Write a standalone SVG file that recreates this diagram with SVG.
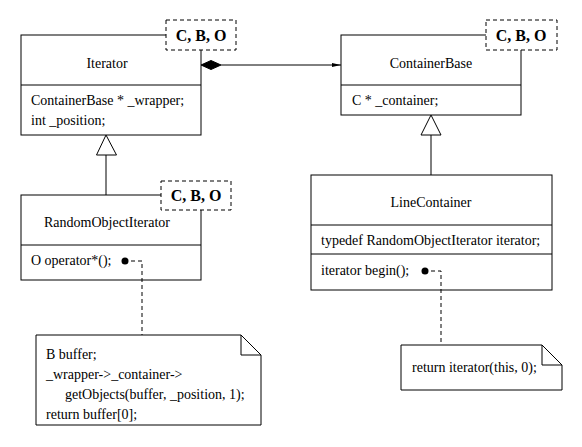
<svg xmlns="http://www.w3.org/2000/svg" width="582" height="447" viewBox="0 0 582 447">
<style>
.box{fill:#fff;stroke:#000;stroke-width:1}
.ln{stroke:#000;stroke-width:1;fill:none}
.dash{stroke:#000;stroke-width:1;fill:none;stroke-dasharray:4,3}
.tag{fill:#fff;stroke:#000;stroke-width:1;stroke-dasharray:4,3}
text{font-family:"Liberation Serif","Times New Roman",serif;font-size:14px;fill:#000}
.c{text-anchor:middle}
.b{font-weight:bold;font-size:16px;text-anchor:middle}
</style>
<defs>
<marker id="arr" markerWidth="10" markerHeight="6" refX="9" refY="3" orient="auto" markerUnits="userSpaceOnUse">
<path d="M0,1 L9,3 L0,5 Z" fill="#000"/>
</marker>
</defs>
<rect width="582" height="447" fill="#fff"/>

<g id="Iterator">
<rect class="box" x="21" y="35" width="180" height="100"/>
<line class="ln" x1="21" y1="85" x2="201" y2="85"/>
<text class="c" x="107" y="68">Iterator</text>
<text x="31" y="105">ContainerBase * _wrapper;</text>
<text x="31" y="125">int _position;</text>
<rect class="tag" x="166" y="20" width="70" height="30"/>
<text class="b" x="201" y="41">C, B, O</text>
</g>

<g id="ContainerBase">
<rect class="box" x="341" y="35" width="180" height="80"/>
<line class="ln" x1="341" y1="85" x2="521" y2="85"/>
<text class="c" x="431" y="68">ContainerBase</text>
<text x="352" y="105">C * _container;</text>
<rect class="tag" x="486" y="20" width="71" height="30"/>
<text class="b" x="521" y="41">C, B, O</text>
</g>

<g id="RandomObjectIterator">
<rect class="box" x="21" y="195" width="180" height="85"/>
<line class="ln" x1="21" y1="245" x2="201" y2="245"/>
<text class="c" x="107" y="227">RandomObjectIterator</text>
<text x="31" y="265">O operator*();</text>
<rect class="tag" x="161" y="181" width="70" height="29"/>
<text class="b" x="196" y="201">C, B, O</text>
</g>

<g id="LineContainer">
<rect class="box" x="311" y="175" width="241" height="115"/>
<line class="ln" x1="311" y1="225" x2="552" y2="225"/>
<line class="ln" x1="311" y1="254" x2="552" y2="254"/>
<text class="c" x="431" y="207">LineContainer</text>
<text x="321" y="245">typedef RandomObjectIterator iterator;</text>
<text x="321" y="275">iterator begin();</text>
</g>

<g id="note1">
<path class="box" d="M36,335 H241 L261,355 V425 H36 Z"/>
<path class="ln" d="M241,335 V355 H261"/>
<text x="46" y="359">B buffer;</text>
<text x="46" y="379">_wrapper-&gt;_container-&gt;</text>
<text x="65" y="399">getObjects(buffer, _position, 1);</text>
<text x="46" y="419">return buffer[0];</text>
</g>

<g id="note2">
<path class="box" d="M401,345 H542 L562,365 V390 H401 Z"/>
<path class="ln" d="M542,345 V365 H562"/>
<text x="412" y="372">return iterator(this, 0);</text>
</g>

<g id="connectors">
<line class="ln" x1="221" y1="65" x2="341" y2="65" marker-end="url(#arr)"/>
<polygon points="201,65 211,60.5 221,65 211,69.5" fill="#000" stroke="#000"/>
<polygon class="box" points="106,135 96.5,155 116.5,155"/>
<line class="ln" x1="106" y1="155" x2="106" y2="195"/>
<polygon class="box" points="431,115 421,135 441,135"/>
<line class="ln" x1="431" y1="135" x2="431" y2="175"/>
<circle cx="125" cy="261" r="3.5" fill="#000"/>
<polyline class="dash" points="131,261 142,261 142,335"/>
<circle cx="425" cy="271" r="3.5" fill="#000"/>
<polyline class="dash" points="431,271 441,271 441,345"/>
</g>
</svg>
